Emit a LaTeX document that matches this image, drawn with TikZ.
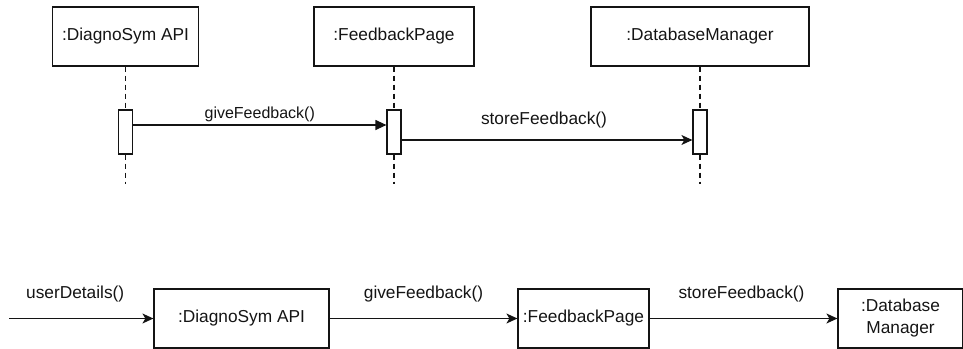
\documentclass[tikz,border=0pt]{standalone}
\usepackage{fontspec}
\setmainfont{Liberation Sans}
\usetikzlibrary{arrows.meta,positioning}
\definecolor{SeqInk}{HTML}{141414}

\tikzset{
  objbox/.style={draw=SeqInk, line width=1.2pt, minimum height=59pt, inner sep=2pt,
    align=center, text=SeqInk, font=\fontsize{17.3}{22}\selectfont},
  actbox/.style={draw=SeqInk, line width=1.2pt, fill=white, minimum width=14pt,
    minimum height=44pt, inner sep=0pt},
  lifeline/.style={draw=SeqInk, line width=1.2pt, dash pattern=on 5pt off 4pt},
  msg/.style={draw=SeqInk, line width=1.2pt, -{Stealth[length=11pt,width=10pt,inset=3pt]}},
  msglabel/.style={text=SeqInk, font=\fontsize{17.3}{20}\selectfont, inner sep=0pt}
}

\begin{document}
\begin{tikzpicture}[x=1pt, y=-1pt]
  \useasboundingbox (0,0) rectangle (963,348);

  % lifeline heads
  \node[objbox, minimum width=146pt] (apiHead) at (125.5,36.5) {:DiagnoSym API};
  \node[objbox, minimum width=160pt] (pageHead) at (394,36.5) {:FeedbackPage};
  \node[objbox, minimum width=218pt] (dbHead) at (700,36.5) {:DatabaseManager};

  % activations
  \node[actbox] (apiAct) at (125.5,132) {};
  \node[actbox] (pageAct) at (394,132) {};
  \node[actbox] (dbAct) at (700,132) {};

  \coordinate (apiEnd) at (125.5,184);
  \coordinate (pageEnd) at (394,184);
  \coordinate (dbEnd) at (700,184);

  \draw[lifeline] (apiHead.south) -- (apiAct.north);
  \draw[lifeline] (apiAct.south) -- (apiEnd);
  \draw[lifeline] (pageHead.south) -- (pageAct.north);
  \draw[lifeline] (pageAct.south) -- (pageEnd);
  \draw[lifeline] (dbHead.south) -- (dbAct.north);
  \draw[lifeline] (dbAct.south) -- (dbEnd);

  % messages
  \draw[draw=SeqInk, line width=1.2pt, -{Triangle[length=11pt,width=10pt]}]
    ([yshift=7pt]apiAct.east) -- ([yshift=7pt]pageAct.west)
    node[msglabel, midway, yshift=11pt, font=\fontsize{16}{19}\selectfont] (giveLbl) {giveFeedback()};
  \draw[msg] ([yshift=-8pt]pageAct.east) -- ([yshift=-8pt]dbAct.west)
    node[msglabel, midway, xshift=-3pt, yshift=20pt] (storeLbl) {storeFeedback()};

  % communication view
  \node[objbox, minimum width=175pt] (apiObj) at (241.5,318.5) {:DiagnoSym API};
  \node[objbox, minimum width=131pt] (pageObj) at (583.5,318.5) {:FeedbackPage};
  \node[objbox, minimum width=125pt] (dbObj) at (900.5,318.5) {:Database\\Manager};
  \coordinate (userStart) at (9,318.5);

  \draw[msg] (userStart) -- (apiObj.west)
    node[msglabel, midway, xshift=-6pt, yshift=24pt] (userLbl) {userDetails()};
  \draw[msg] (apiObj.east) -- (pageObj.west)
    node[msglabel, midway, yshift=24pt] (giveLbl2) {giveFeedback()};
  \draw[msg] (pageObj.east) -- (dbObj.west)
    node[msglabel, midway, xshift=-2pt, yshift=24pt] (storeLbl2) {storeFeedback()};
\end{tikzpicture}
\end{document}
